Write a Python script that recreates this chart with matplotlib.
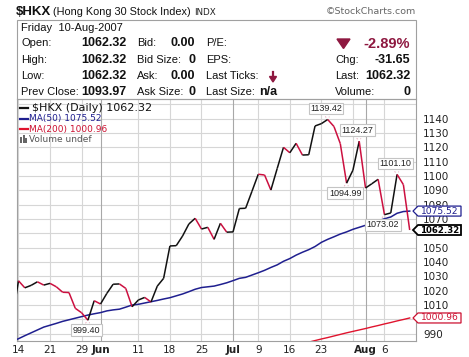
import matplotlib
matplotlib.use('Agg')
import matplotlib.pyplot as plt
from matplotlib.collections import LineCollection
from matplotlib.patches import Polygon, Rectangle
from matplotlib.lines import Line2D

# ---------------- data ----------------
# trading-day index (0 = 14 May 2007, 62 = 10 Aug 2007); -1 is the clipped previous day
day_idx = list(range(-1, 63))
price = [1000.0,
         1026.9, 1022.0, 1023.7, 1026.2, 1023.9, 1025.1, 1022.7, 1018.9, 1018.7, 1007.7,
         1004.6, 999.40, 1013.0, 1010.7, 1018.1, 1024.5, 1024.7, 1021.6, 1008.8, 1013.5,
         1015.3, 1012.1, 1023.2, 1028.6, 1051.2, 1051.4, 1058.1, 1066.5, 1070.5, 1063.0,
         1064.2, 1055.8, 1067.0, 1060.8, 1061.0, 1077.3, 1077.5, 1089.3, 1101.2, 1100.7,
         1090.2, 1105.2, 1120.0, 1116.2, 1122.8, 1114.6, 1114.8, 1134.9, 1136.5, 1139.42,
         1134.5, 1122.6, 1094.99, 1104.0, 1124.27, 1091.6, 1094.6, 1097.7, 1073.02, 1074.2,
         1101.10, 1093.97, 1062.32]

ma50_idx = list(range(-1, 63))
ma50 = [984.6,
        986.5, 988.6, 990.6, 992.6, 994.6, 995.9, 997.2, 998.6, 999.7, 1000.8,
        1001.9, 1003.0, 1003.9, 1004.7, 1005.9, 1006.6, 1007.1, 1008.5, 1010.0, 1010.5,
        1011.4, 1012.3, 1013.2, 1014.2, 1015.1, 1016.4, 1017.7, 1019.3, 1021.0, 1022.2,
        1022.7, 1023.2, 1024.3, 1025.5, 1027.0, 1028.6, 1029.3, 1030.9, 1032.5, 1034.2,
        1036.2, 1038.0, 1040.5, 1042.4, 1044.8, 1046.8, 1048.6, 1050.8, 1053.7, 1055.8,
        1057.6, 1059.5, 1061.0, 1062.8, 1064.2, 1065.6, 1067.0, 1068.6, 1070.2, 1071.4,
        1074.0, 1075.2, 1075.52]

ma200_idx = list(range(46, 63))
ma200 = [984.1, 985.2, 986.3, 987.3, 988.4, 989.5, 990.6, 991.6, 992.6, 993.6,
         994.7, 995.7, 996.8, 997.8, 998.9, 999.9, 1000.96]

tick_pos = [0, 5, 10, 13, 19, 24, 29, 34, 38, 43, 48, 55, 58]
tick_labels = ['14', '21', '29', 'Jun', '11', '18', '25', 'Jul', '9', '16', '23', 'Aug', '6']
month_labels = ['Jun', 'Jul', 'Aug']
week_grid = [0, 5, 10, 19, 24, 29, 38, 43, 48, 53, 58]
month_grid = [13, 34, 55]
y_ticks = [990, 1010, 1020, 1030, 1040, 1050, 1070, 1080, 1090, 1100, 1110, 1120, 1130, 1140]

peak_labels = [(49, 1139.42, 'above'), (54, 1124.27, 'above'), (52, 1094.99, 'below'),
               (60, 1101.10, 'above'), (58, 1073.02, 'below'), (11, 999.40, 'below')]

# ---------------- figure ----------------
W, H = 469, 357
fig = plt.figure(figsize=(W / 100, H / 100), dpi=100)
fig.patch.set_facecolor('white')

def fx(px):
    return px / W

def fy(py):
    return 1 - py / H

L, R, T, B = 16.7, 416.0, 99.0, 341.0
YMIN, YMAX = 984.9, 1153.7
XMIN, XMAX = -0.285, 63.0

def ypx(v):
    return T + (YMAX - v) / (YMAX - YMIN) * (B - T)

ax = fig.add_axes([fx(L), fy(B), fx(R) - fx(L), fy(T) - fy(B)])
ax.set_xlim(XMIN, XMAX)
ax.set_ylim(YMIN, YMAX)
for s in ax.spines.values():
    s.set_color('#a0a0a0')
    s.set_linewidth(0.8)

# grid
for v in list(range(990, 1151, 10)):
    ax.axhline(v, color='#d6d6d6', lw=0.8, zorder=0)
for g in week_grid:
    ax.axvline(g, color='#d6d6d6', lw=0.8, zorder=0)
for g in month_grid:
    ax.axvline(g, color='#a8a8a8', lw=0.8, zorder=0)

# ticks
ax.yaxis.tick_right()
ax.set_yticks(y_ticks)
ax.set_yticklabels([str(v) for v in y_ticks], fontsize=7.5, color='#222222')
ax.tick_params(axis='y', length=0, pad=5)
ax.set_xticks(tick_pos)
ax.set_xticklabels(tick_labels, fontsize=7.5, color='#222222')
ax.tick_params(axis='x', length=0, pad=3)
for lab in ax.get_xticklabels():
    if lab.get_text() in month_labels:
        lab.set_fontweight('bold')

# moving averages
ax.plot(ma50_idx, ma50, color='#1f1f8f', lw=1.1, zorder=3)
ax.plot(ma200_idx, ma200, color='#e0142e', lw=1.0, zorder=3)

# price line colored by direction
segs, cols = [], []
for i in range(1, len(price)):
    segs.append([(day_idx[i - 1], price[i - 1]), (day_idx[i], price[i])])
    cols.append('#111111' if price[i] >= price[i - 1] else '#cc1040')
ax.add_collection(LineCollection(segs, colors=cols, linewidths=1.1, zorder=4))

# peak / trough labels
for idx, val, pos in peak_labels:
    dy = 11 if pos == 'above' else -10
    ax.annotate(f'{val:.2f}', xy=(idx, val), xytext=(-1.5, dy), textcoords='offset pixels',
                ha='center', va='center', fontsize=6.5, family='Liberation Sans', color='#222222',
                bbox=dict(boxstyle='square,pad=0.15', fc='white', ec='#c4c4c4', lw=0.8), zorder=6)
    sgn = 1 if pos == 'above' else -1
    ax.annotate('', xy=(idx, val), xytext=(-4, sgn * 5), textcoords='offset pixels',
                arrowprops=dict(arrowstyle='-', color='#e8b0c0', lw=0.7), zorder=5)
    ax.annotate('', xy=(idx, val), xytext=(3, sgn * 5), textcoords='offset pixels',
                arrowprops=dict(arrowstyle='-', color='#e8b0c0', lw=0.7), zorder=5)

# ---------------- header ----------------
fig.text(fx(16), fy(12), '$HKX', fontsize=9.5, fontweight='bold', family='Liberation Sans',
         va='center', ha='left', color='#111111')
fig.text(fx(53), fy(12), '(Hong Kong 30 Stock Index)', fontsize=7.8, family='Liberation Sans',
         va='center', ha='left', color='#111111')
fig.text(fx(194), fy(12.5), 'INDX', fontsize=6.3, va='center', ha='left', color='#222222')
fig.text(fx(416), fy(12), '\u00a9StockCharts.com', fontsize=6.8, va='center', ha='right', color='#666666')

fig.patches.append(Rectangle((fx(L), fy(T)), fx(R) - fx(L), fy(20) - fy(T), transform=fig.transFigure,
                             fill=False, ec='#a0a0a0', lw=0.8))

rows_y = [28, 43.5, 60, 76, 91.7]
lab_kw = dict(fontsize=8, family='Liberation Sans', va='center', color='#111111')
val_kw = dict(fontsize=9, family='Liberation Sans', fontweight='bold', va='center', ha='right', color='#111111')
fig.text(fx(21), fy(rows_y[0]), 'Friday  10-Aug-2007', ha='left', **lab_kw)
col1 = ['Open:', 'High:', 'Low:', 'Prev Close:']
col1v = ['1062.32', '1062.32', '1062.32', '1093.97']
col2 = ['Bid:', 'Bid Size:', 'Ask:', 'Ask Size:']
col2v = ['0.00', '0', '0.00', '0']
col3 = ['P/E:', 'EPS:', 'Last Ticks:', 'Last Size:']
col4 = ['', 'Chg:', 'Last:', 'Volume:']
col4v = ['-2.89%', '-31.65', '1062.32', '0']
for k in range(4):
    y = fy(rows_y[k + 1])
    fig.text(fx(21), y, col1[k], ha='left', **lab_kw)
    fig.text(fx(126.7), y, col1v[k], **val_kw)
    fig.text(fx(137), y, col2[k], ha='left', **lab_kw)
    fig.text(fx(195), y, col2v[k], **val_kw)
    fig.text(fx(205.7), y, col3[k], ha='left', **lab_kw)
    if col4[k]:
        fig.text(fx(335), y, col4[k], ha='left', **lab_kw)
    if k == 0:
        fig.text(fx(410), y, col4v[k], fontsize=10.5, family='Liberation Sans', fontweight='bold',
                 va='center', ha='right', color='#8e1840')
    else:
        fig.text(fx(410), y, col4v[k], **val_kw)
fig.text(fx(259), fy(rows_y[4]), 'n/a', fontsize=9, family='Liberation Sans', fontweight='bold',
         va='center', ha='left', color='#111111')

maroon = '#8e1840'
fig.patches.append(Polygon([(fx(337), fy(39)), (fx(350), fy(39)), (fx(343.5), fy(48.5))],
                           closed=True, transform=fig.transFigure, fc=maroon, ec=maroon))
fig.lines.append(Line2D([fx(273), fx(273)], [fy(71.5), fy(78)], transform=fig.transFigure,
                        color=maroon, lw=1.6))
fig.patches.append(Polygon([(fx(269.5), fy(76.5)), (fx(276.5), fy(76.5)), (fx(273), fy(82))],
                           closed=True, transform=fig.transFigure, fc=maroon, ec=maroon))

# ---------------- legend ----------------
fig.lines.append(Line2D([fx(20), fx(28)], [fy(107.7)] * 2, transform=fig.transFigure, color='#111111', lw=1.6))
fig.text(fx(31.5), fy(107.7), '$HKX (Daily) 1062.32', fontsize=8, va='center', ha='left', color='#111111')
fig.lines.append(Line2D([fx(20), fx(28)], [fy(119)] * 2, transform=fig.transFigure, color='#1f1f8f', lw=1.6))
fig.text(fx(29.3), fy(119), 'MA(50) 1075.52', fontsize=6.5, va='center', ha='left', color='#1f1f8f')
fig.lines.append(Line2D([fx(20), fx(28)], [fy(129.3)] * 2, transform=fig.transFigure, color='#e0142e', lw=1.6))
fig.text(fx(29.3), fy(129.3), 'MA(200) 1000.96', fontsize=6.5, va='center', ha='left', color='#cc1030')
for bx, bh in [(20, 6), (22.5, 8), (25, 5)]:
    fig.patches.append(Rectangle((fx(bx), fy(143)), fx(2) - fx(0), fy(143 - bh) - fy(143),
                                 transform=fig.transFigure, fc='#666666', ec='none'))
fig.text(fx(29.3), fy(139.3), 'Volume undef', fontsize=6.5, va='center', ha='left', color='#555555')

# ---------------- right-side value tags ----------------
tags = [(1075.52, '#1f1f8f', '#1f1f8f', 'normal', 0.9, 6.6),
        (1062.32, '#000000', '#000000', 'bold', 1.3, 6.2),
        (1000.96, '#cc1030', '#cc1030', 'normal', 0.9, 6.6)]
for val, tc, ec, fw, lw, fs in tags:
    yc = ypx(val)
    pts = [(413, yc), (418, yc - 5), (461, yc - 5), (461, yc + 5), (418, yc + 5)]
    fig.patches.append(Polygon([(fx(a), fy(b)) for a, b in pts], closed=True, transform=fig.transFigure,
                               fc='white', ec=ec, lw=lw, zorder=5))
    fig.text(fx(439.5), fy(yc), f'{val:.2f}', fontsize=fs, fontweight=fw, va='center', ha='center',
             color=tc, zorder=6)

fig.savefig('out.png', dpi=100, facecolor='white')
